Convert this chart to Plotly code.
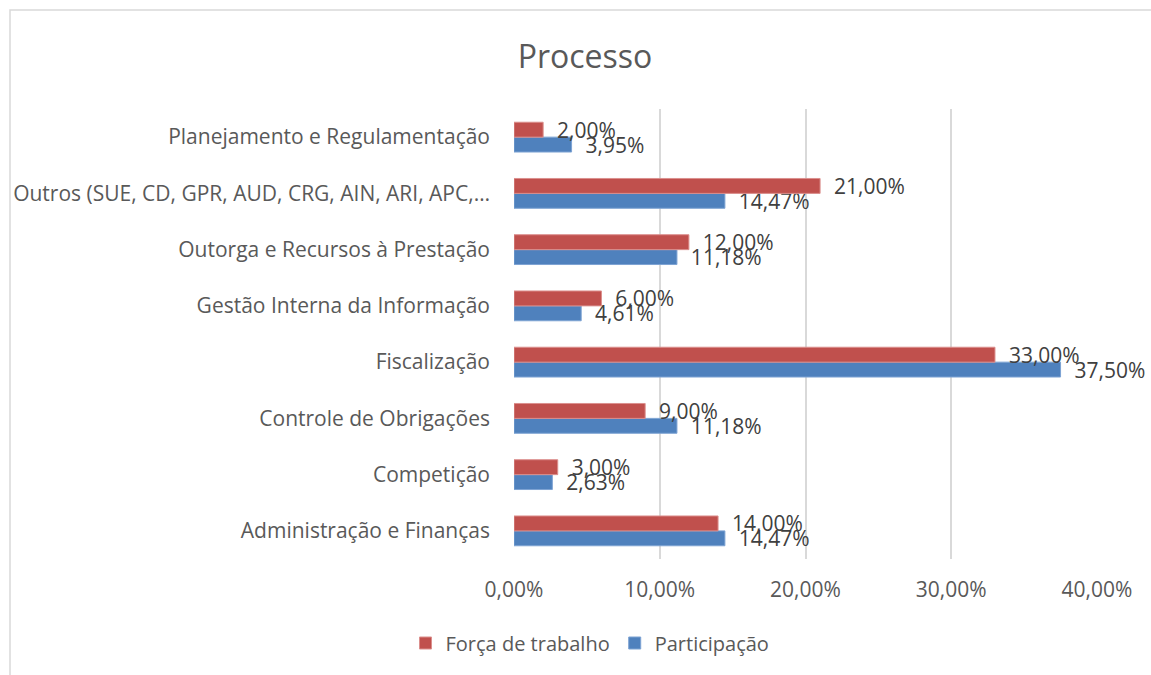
import plotly.graph_objects as go

categories = [
    "Administração e Finanças",
    "Competição",
    "Controle de Obrigações",
    "Fiscalização",
    "Gestão Interna da Informação",
    "Outorga e Recursos à Prestação",
    "Outros (SUE, CD, GPR, AUD, CRG, AIN, ARI, APC,…",
    "Planejamento e Regulamentação",
]
forca_trabalho = [0.14, 0.03, 0.09, 0.33, 0.06, 0.12, 0.21, 0.02]
participacao = [0.1447, 0.0263, 0.1118, 0.3750, 0.0461, 0.1118, 0.1447, 0.0395]
x_ticks = [0, 0.1, 0.2, 0.3, 0.4]

W, H = 1151, 675
L, R, T, B = 514, 54, 109, 116
FONT = "Open Sans"
GRAY = "#595959"
FS = 21

fig = go.Figure()
fig.add_trace(go.Bar(
    y=categories, x=participacao, orientation="h", name="Participação",
    marker=dict(color="#4F81BD", line=dict(color="#7DA3D3", width=1)),
    texttemplate="  %{x:.2%}", textposition="outside", cliponaxis=False,
    constraintext="none", textfont=dict(size=FS, color="#404040", family=FONT),
))
fig.add_trace(go.Bar(
    y=categories, x=forca_trabalho, orientation="h", name="Força de trabalho",
    marker=dict(color="#C0504D", line=dict(color="#DB8F8D", width=1)),
    texttemplate="  %{x:.2%}", textposition="outside", cliponaxis=False,
    constraintext="none", textfont=dict(size=FS, color="#404040", family=FONT),
))

pw, ph = W - L - R, H - T - B
def px_x(p):
    return (p - L) / pw
def px_y(p):
    return (H - B - p) / ph

fig.update_layout(
    width=W, height=H,
    margin=dict(l=L, r=R, t=T, b=B),
    paper_bgcolor="white", plot_bgcolor="white",
    separators=",.",
    barmode="group", bargap=0.47, bargroupgap=0,
    font=dict(family=FONT, color=GRAY, size=FS),
    title=dict(text="Processo", x=585 / W, xanchor="center", y=1 - 57 / H, yanchor="middle",
               font=dict(size=32, color=GRAY, family=FONT)),
    xaxis=dict(range=[0, 0.4], tickvals=x_ticks, tickformat=".2%", showgrid=True,
               gridcolor="#D9D9D9", gridwidth=1.5, zeroline=False, showline=False,
               ticks="", ticklabelstandoff=16, tickfont=dict(size=FS, color=GRAY)),
    yaxis=dict(type="category", showgrid=False, zeroline=False, showline=False, ticks="",
               ticklabelstandoff=23, tickfont=dict(size=FS, color=GRAY)),
    legend=dict(orientation="h", x=px_x(590), xanchor="center", y=px_y(643), yanchor="middle",
                traceorder="reversed", font=dict(size=20, color=GRAY), itemwidth=30),
    showlegend=True,
    shapes=[dict(type="rect", xref="paper", yref="paper",
                 x0=px_x(10), x1=px_x(1200), y0=px_y(720), y1=px_y(10),
                 line=dict(color="#D9D9D9", width=1.5), layer="below")],
)

fig.write_html("out.html", config={"displayModeBar": False})
with open("out.html", "r", encoding="utf-8") as f:
    html = f.read()
html = html.replace("<head>", "<head><style>html,body{margin:0;padding:0;}</style>", 1)
with open("out.html", "w", encoding="utf-8") as f:
    f.write(html)
